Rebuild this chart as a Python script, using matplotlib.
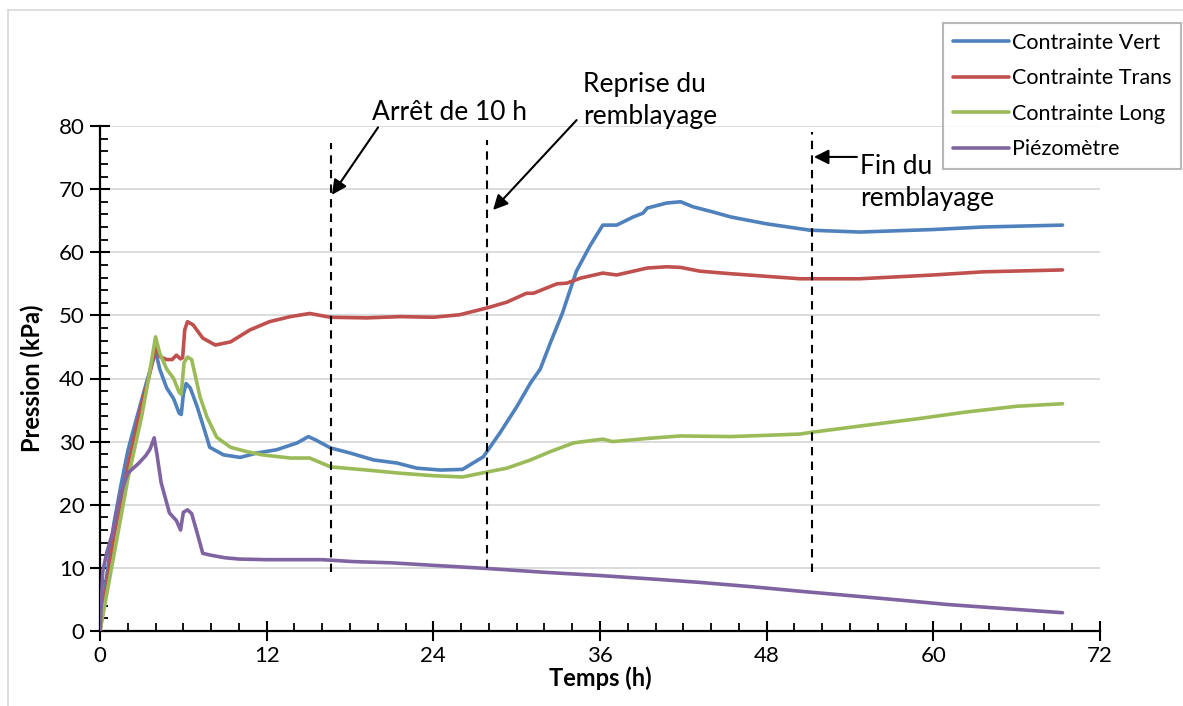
import matplotlib
matplotlib.use("Agg")
import matplotlib.pyplot as plt
from matplotlib.ticker import MultipleLocator
from matplotlib.lines import Line2D

plt.rcParams['font.family'] = ['Lato', 'DejaVu Sans']

# ---- data ----
t_vert = [0, 0.5, 1, 1.5, 2, 2.3, 2.8, 3.3, 3.7, 4.0, 4.3, 4.8, 5.3, 5.7, 5.85, 6.0, 6.2, 6.5, 7, 7.5, 7.9,
          8.9, 10.1, 11.3, 12.7, 14.2, 15.0, 15.5, 16.6, 18, 19.7, 21.4, 22.8, 24.5, 26.1, 27.6, 28.8, 30, 31,
          31.7, 32.4, 33.3, 34.3, 35.3, 36.2, 37.2, 38.4, 39.1, 39.4, 40.8, 41.8, 42.7, 44.1, 45.4, 46.1, 48,
          51.1, 54.7, 60, 63.6, 69.3]
v_vert = [0, 9, 17, 23, 28.5, 31, 35, 39, 42, 44.3, 41.5, 38.5, 36.8, 34.5, 34.3, 37.5, 39.2, 38.5, 35.5, 32, 29.1,
          27.9, 27.5, 28.2, 28.7, 29.8, 30.8, 30.3, 29.0, 28.2, 27.1, 26.6, 25.8, 25.5, 25.6, 27.6, 31.4, 35.5, 39.3,
          41.5, 45.5, 50.4, 57.0, 61.1, 64.3, 64.3, 65.6, 66.2, 67.0, 67.8, 68.0, 67.2, 66.4, 65.6, 65.3, 64.5,
          63.5, 63.2, 63.6, 64.0, 64.3]

t_trans = [0, 1, 2, 3, 3.5, 4.0, 4.3, 4.8, 5.2, 5.5, 5.8, 5.95, 6.1, 6.3, 6.7, 7.4, 8.3, 9.4, 10.8, 12.2, 13.7,
           15.1, 16.6, 19.2, 21.6, 24, 25.9, 27.9, 29.3, 30.7, 31.2, 32.9, 33.6, 34.6, 36.2, 37.2, 39.4, 40.8,
           41.8, 43.2, 45.4, 50.4, 54.7, 60, 63.6, 69.3]
v_trans = [0, 15, 26, 36, 40, 44.8, 43.5, 43, 43, 43.7, 43.1, 43.3, 47.7, 49.0, 48.5, 46.4, 45.3, 45.8, 47.7, 49.0, 49.8,
           50.3, 49.7, 49.6, 49.8, 49.7, 50.1, 51.2, 52.1, 53.5, 53.5, 55.0, 55.1, 55.9, 56.7, 56.4, 57.5, 57.7,
           57.6, 57.0, 56.6, 55.8, 55.8, 56.4, 56.9, 57.2]

t_long = [0, 1, 2, 3, 3.5, 4.0, 4.3, 4.8, 5.3, 5.7, 5.85, 6.05, 6.3, 6.6, 7.2, 7.7, 8.4, 9.4, 10.6, 11.7, 13.7,
          15.1, 16.6, 19.2, 21.6, 24, 26.1, 27.9, 29.3, 31, 32.4, 34.1, 36.2, 36.9, 39.4, 41.8, 45.4, 48, 50.4,
          51.3, 55.2, 58.8, 62.4, 66, 69.3]
v_long = [0, 12, 24, 34, 40, 46.6, 44, 41.5, 40, 37.8, 37.5, 42.5, 43.4, 43, 37.1, 33.9, 30.7, 29.1, 28.4, 27.9, 27.4,
          27.4, 26.0, 25.5, 25.0, 24.6, 24.4, 25.2, 25.8, 27.1, 28.4, 29.8, 30.4, 30.0, 30.5, 30.9, 30.8, 31.0, 31.2,
          31.5, 32.6, 33.6, 34.7, 35.6, 36.0]

t_piezo = [0, 0.2, 0.5, 0.9, 1.3, 1.6, 2.0, 2.4, 2.8, 3.3, 3.6, 3.9, 4.1, 4.4, 5, 5.5, 5.8, 6.0, 6.3, 6.6, 7.0,
           7.4, 8, 9, 10, 12, 14.4, 16, 18.2, 21, 24, 27.9, 32, 35.9, 40, 43.2, 47, 50.4, 54, 57.6, 61, 64.8, 69.3]
v_piezo = [0, 9.5, 12.5, 15.5, 20, 22.5, 25, 25.8, 26.6, 27.8, 28.8, 30.6, 28, 23.5, 18.7, 17.5, 16, 18.8, 19.2, 18.6, 15.5,
           12.3, 12.0, 11.6, 11.4, 11.3, 11.3, 11.3, 11.0, 10.8, 10.4, 9.9, 9.3, 8.8, 8.2, 7.7, 7.0, 6.3, 5.6, 4.9, 4.2, 3.6, 2.9]

series_names = ['Contrainte Vert', 'Contrainte Trans', 'Contrainte Long', 'Piézomètre']
series_colors = ['#4F81BD', '#C0504D', '#9BBB59', '#8064A2']

events_t = [16.6, 27.9, 51.3]
events_top = [77.3, 77.8, 79.0]
events_bottom = [9.4, 10.0, 9.4]

# ---- figure ----
W, H = 1183, 706
fig = plt.figure(figsize=(W / 100, H / 100), dpi=100)
ax = fig.add_axes([100 / W, 1 - 631 / H, 1000 / W, (631 - 126) / H])

data = [(t_vert, v_vert), (t_trans, v_trans), (t_long, v_long), (t_piezo, v_piezo)]
for (t, v), name, col in zip(data, series_names, series_colors):
    ax.plot(t, v, color=col, lw=2.6, label=name, solid_capstyle='round', zorder=3)

for x, y0, y1 in zip(events_t, events_bottom, events_top):
    ax.plot([x, x], [y0, y1], color='black', lw=1.5, ls=(0, (4, 3)), zorder=4)

ax.set_xlim(0, 72)
ax.set_ylim(0, 80)
ax.xaxis.set_major_locator(MultipleLocator(12))
ax.xaxis.set_minor_locator(MultipleLocator(2))
ax.yaxis.set_major_locator(MultipleLocator(10))
ax.yaxis.set_minor_locator(MultipleLocator(2))
ax.grid(axis='y', which='major', color='#D9D9D9', lw=1.3, zorder=0)
ax.set_axisbelow(True)
for s in ['top', 'right']:
    ax.spines[s].set_visible(False)
for s in ['left', 'bottom']:
    ax.spines[s].set_linewidth(1.6)
ax.tick_params(which='major', direction='inout', length=14, width=1.5, labelsize=16, pad=4)
ax.tick_params(which='minor', direction='in', length=6, width=1.3)

ax.set_ylabel('Pression (kPa)', fontsize=17, fontweight='bold', labelpad=11)
ax.set_xlabel('Temps (h)', fontsize=17, fontweight='bold', labelpad=0)

# annotations
ann_kw = dict(fontsize=19, color='black', annotation_clip=False)
arrow = dict(arrowstyle='-|>', color='black', lw=1.5, mutation_scale=22, shrinkA=0, shrinkB=0)
ax.annotate('Arrêt de 10 h', xy=(16.7, 69.1), xytext=(19.6, 82.2), ha='left', va='center',
            arrowprops=dict(arrow, relpos=(0.05, 0.0)), **ann_kw)
ax.annotate('Reprise du\nremblayage', xy=(28.3, 66.7), xytext=(34.8, 84.1), ha='left', va='center',
            linespacing=1.35, arrowprops=dict(arrow, relpos=(-0.05, 0.15)), **ann_kw)
ax.annotate('', xy=(51.4, 75.1), xytext=(54.5, 75.1), arrowprops=arrow, annotation_clip=False)
ax.text(54.7, 71.0, 'Fin du\nremblayage', ha='left', va='center', fontsize=19, linespacing=1.35)

leg = fig.legend(loc='upper left', bbox_to_anchor=(943 / W, 1 - 23 / H), fontsize=15.5,
                 frameon=True, fancybox=False, edgecolor='#A6A6A6', handlelength=2.6,
                 handletextpad=0.15, labelspacing=0.72, borderpad=0.45, borderaxespad=0)
leg.get_frame().set_linewidth(1.5)

# chart-area border
fig.add_artist(Line2D([8 / W, 8 / W], [0, 1 - 10 / H], color='#D9D9D9', lw=1.2))
fig.add_artist(Line2D([8 / W, 1], [1 - 10 / H, 1 - 10 / H], color='#D9D9D9', lw=1.2))

fig.savefig('out.png', dpi=100)
